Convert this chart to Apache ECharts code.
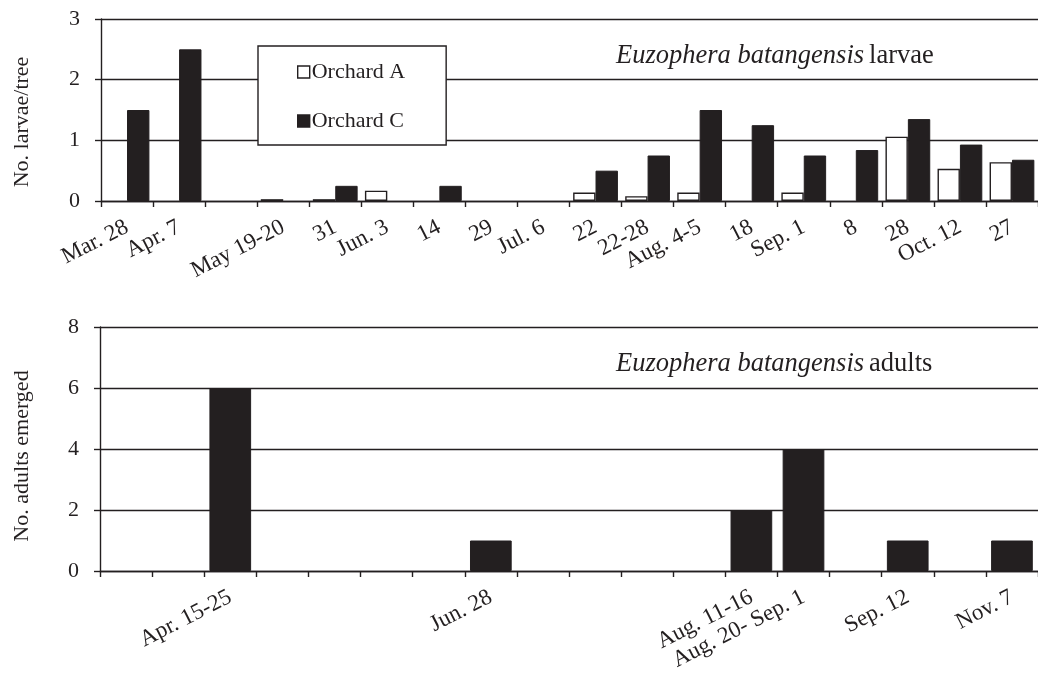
<!DOCTYPE html>
<html>
<head>
<meta charset="utf-8">
<script src="https://cdn.jsdelivr.net/npm/echarts@6/dist/echarts.min.js"></script>
<style>
  html, body { margin: 0; padding: 0; background: #fff; }
  #chart { width: 1038px; height: 675px; }
</style>
</head>
<body>
<div id="chart"></div>
<script>
// Sampling dates for larvae counts (third slot has no survey label)
const larvaeDates = ['Mar. 28', 'Apr. 7', '', 'May 19-20', '31', 'Jun. 3', '14', '29', 'Jul. 6',
  '22', '22-28', 'Aug. 4-5', '18', 'Sep. 1', '8', '28', 'Oct. 12', '27'];
// Larvae per tree, by orchard
const orchardA = [0, 0, 0, 0.03, 0.03, 0.17, 0, 0, 0, 0.14, 0.08, 0.14, 0, 0.14, 0, 1.06, 0.53, 0.64];
const orchardC = [1.5, 2.5, 0, 0, 0.25, 0, 0.25, 0, 0, 0.5, 0.75, 1.5, 1.25, 0.75, 0.84, 1.35, 0.93, 0.68];

// Emergence periods for adults
const adultDates = ['', '', 'Apr. 15-25', '', '', '', '', 'Jun. 28', '', '', '', '', 'Aug. 11-16',
  'Aug. 20- Sep. 1', '', 'Sep. 12', '', 'Nov. 7'];
const adultsEmerged = [0, 0, 6, 0, 0, 0, 0, 1, 0, 0, 0, 0, 2, 4, 0, 1, 0, 1];

const larvaeTicks = [0, 1, 2, 3];
const adultTicks = [0, 2, 4, 6, 8];

const INK = '#231f20';
const SERIF = '"Liberation Serif", "DejaVu Serif", serif';

// zero counts get no bar at all
const bars = arr => arr.map(v => (v === 0 ? null : v));

const chart = echarts.init(document.getElementById('chart'), null, { renderer: 'canvas' });

function catAxis(gridIndex, data) {
  return {
    type: 'category', gridIndex, data,
    boundaryGap: true,
    axisLine: { show: true, lineStyle: { color: INK, width: 1.4 } },
    axisTick: { show: true, alignWithLabel: false, interval: 0, length: 6, lineStyle: { color: INK, width: 1.4 } },
    axisLabel: {
      interval: 0, rotate: 27, margin: 25,
      fontFamily: SERIF, fontSize: 23, color: INK
    },
    splitLine: { show: false }
  };
}

function valAxis(gridIndex, ticks) {
  return {
    type: 'value', gridIndex,
    min: ticks[0], max: ticks[ticks.length - 1], interval: ticks[1] - ticks[0],
    axisLine: { show: true, lineStyle: { color: INK, width: 1.4 } },
    axisTick: { show: true, length: 6, lineStyle: { color: INK, width: 1.4 } },
    axisLabel: { margin: 21, fontFamily: SERIF, fontSize: 22, color: INK },
    splitLine: { show: true, lineStyle: { color: INK, width: 1.4 } }
  };
}

function heading(top, word) {
  return {
    left: 611, top,
    text: '{i|Euzophera batangensis} {n|' + word + '}',
    textStyle: {
      fontWeight: 'normal',
      rich: {
        i: { fontFamily: SERIF, fontStyle: 'italic', fontWeight: 'normal', fontSize: 26.5, color: INK },
        n: { fontFamily: SERIF, fontWeight: 'normal', fontSize: 26.5, color: INK }
      }
    }
  };
}

const option = {
  backgroundColor: '#fff',
  animation: false,
  grid: [
    { left: 101, top: 19, width: 948, height: 182 },
    { left: 100, top: 327, width: 947, height: 244 }
  ],
  title: [heading(38, 'larvae'), heading(346, 'adults')],
  legend: {
    orient: 'vertical',
    left: 258, top: 46,
    padding: [15, 41, 13, 39],
    itemGap: 27,
    itemWidth: 12, itemHeight: 12,
    itemStyle: { borderColor: INK, borderWidth: 1.4 },
    backgroundColor: '#fff',
    borderColor: INK, borderWidth: 1.4,
    textStyle: { fontFamily: SERIF, fontSize: 22, color: INK, padding: [0, 0, 0, -3], lineHeight: 22 },
    data: [
      { name: 'Orchard A', icon: 'rect' },
      { name: 'Orchard C', icon: 'rect' }
    ]
  },
  xAxis: [catAxis(0, larvaeDates), catAxis(1, adultDates)],
  yAxis: [valAxis(0, larvaeTicks), valAxis(1, adultTicks)],
  graphic: [
    {
      type: 'text', x: 22, y: 122, rotation: Math.PI / 2,
      style: { text: 'No. larvae/tree', fontFamily: SERIF, fontSize: 22, fill: INK, align: 'center', verticalAlign: 'middle' }
    },
    {
      type: 'text', x: 22, y: 456, rotation: Math.PI / 2,
      style: { text: 'No. adults emerged', fontFamily: SERIF, fontSize: 22, fill: INK, align: 'center', verticalAlign: 'middle' }
    }
  ],
  series: [
    {
      name: 'Orchard A', type: 'bar', xAxisIndex: 0, yAxisIndex: 0,
      data: bars(orchardA),
      barGap: '0%', barCategoryGap: '14%',
      itemStyle: { color: '#fff', borderColor: INK, borderWidth: 1.4 }
    },
    {
      name: 'Orchard C', type: 'bar', xAxisIndex: 0, yAxisIndex: 0,
      data: bars(orchardC),
      barGap: '0%', barCategoryGap: '14%',
      itemStyle: { color: INK, borderColor: INK, borderWidth: 1 }
    },
    {
      name: 'Adults', type: 'bar', xAxisIndex: 1, yAxisIndex: 1,
      data: bars(adultsEmerged),
      barCategoryGap: '20%',
      itemStyle: { color: INK, borderColor: INK, borderWidth: 1 }
    }
  ]
};

chart.setOption(option);
</script>
</body>
</html>
